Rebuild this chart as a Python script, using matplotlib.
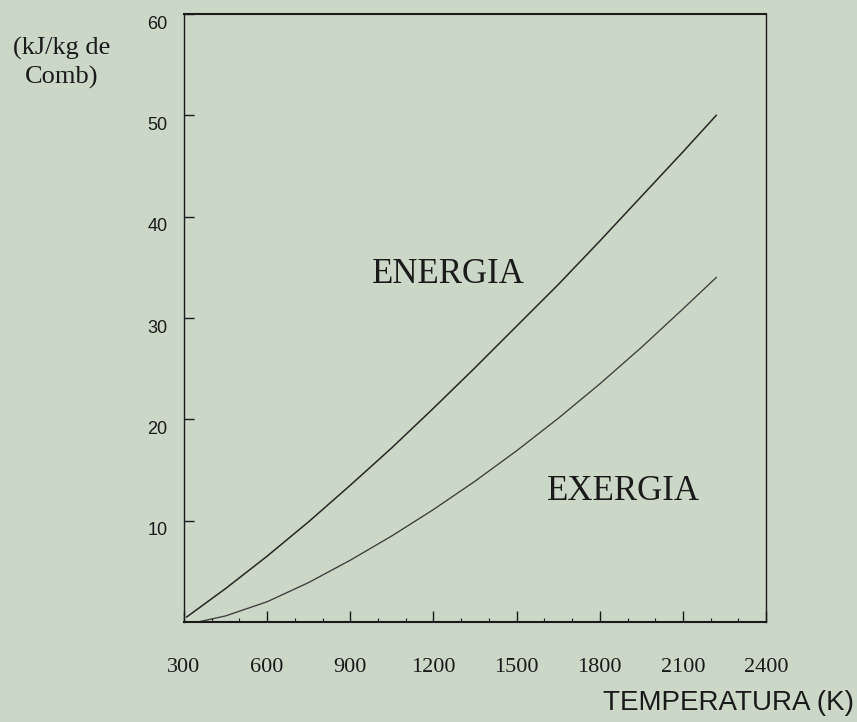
import numpy as np
import matplotlib
matplotlib.use("Agg")
import matplotlib.pyplot as plt
from matplotlib.transforms import offset_copy

# temperature (K) and energy / exergy of the gases (kJ/kg de Comb)
temp_energia = [310, 450, 600, 750, 900, 1050, 1200, 1350, 1500, 1650, 1800, 1950, 2100, 2220]
energia = [0.5, 3.3, 6.5, 9.9, 13.5, 17.2, 21.1, 25.1, 29.2, 33.3, 37.6, 42.0, 46.4, 50.0]

temp_exergia = [350, 450, 600, 750, 900, 1050, 1200, 1350, 1500, 1650, 1800, 1950, 2100, 2220]
exergia = [0.0, 0.6, 2.0, 3.9, 6.1, 8.5, 11.1, 13.9, 16.9, 20.1, 23.5, 27.1, 30.9, 34.0]

xticks = [300, 600, 900, 1200, 1500, 1800, 2100, 2400]
yticks = [10, 20, 30, 40, 50, 60]

bg = "#cbd7c7"
ink = "#1a1a1a"

fig = plt.figure(figsize=(8.57, 7.22), dpi=100, facecolor=bg)
ax = fig.add_axes([0.2147, 0.1385, 0.894 - 0.2147, 0.9806 - 0.1385], facecolor=bg)

ax.plot(temp_energia, energia, color="#262626", lw=1.1)
ax.plot(temp_exergia, exergia, color="#3c3c3c", lw=0.95)

ax.set_xlim(300, 2400)
ax.set_ylim(0, 60)

for s in ax.spines.values():
    s.set_color(ink)
    s.set_linewidth(1.0)
ax.spines["bottom"].set_linewidth(1.5)
ax.spines["top"].set_linewidth(1.5)

ax.set_yticks(yticks)
ax.set_yticklabels([str(v) for v in yticks], family="Liberation Sans", fontsize=13,
                   color=ink)
ax.tick_params(axis="y", direction="in", length=7, width=1.0, color=ink, pad=12)
for lab in ax.get_yticklabels():
    lab.set_transform(offset_copy(lab.get_transform(), fig=fig, x=0, y=-8, units="dots"))

ax.set_xticks(xticks)
ax.set_xticklabels([str(v) for v in xticks], family="Liberation Serif", fontsize=16,
                   color=ink)
ax.set_xticks(np.arange(300, 2400, 100), minor=True)
ax.tick_params(axis="x", which="major", direction="in", length=8, width=1.0, color=ink, pad=26)
ax.tick_params(axis="x", which="minor", direction="in", length=3, width=0.8, color=ink)

fig.text(62 / 857, 1 - 63 / 722, "(kJ/kg de\nComb)", family="Liberation Serif",
         fontsize=19, color=ink, ha="center", va="center", linespacing=1.3)

fig.text(854 / 857, 1 - 703 / 722, "TEMPERATURA (K)", family="Liberation Sans",
         fontsize=20, color=ink, ha="right", va="center")

ax.text(1255, 34.3, "ENERGIA", family="Liberation Serif", fontsize=25, color=ink,
        ha="center", va="center")
ax.text(1885, 12.9, "EXERGIA", family="Liberation Serif", fontsize=25, color=ink,
        ha="center", va="center")

fig.savefig("out.png", dpi=100, facecolor=bg)
